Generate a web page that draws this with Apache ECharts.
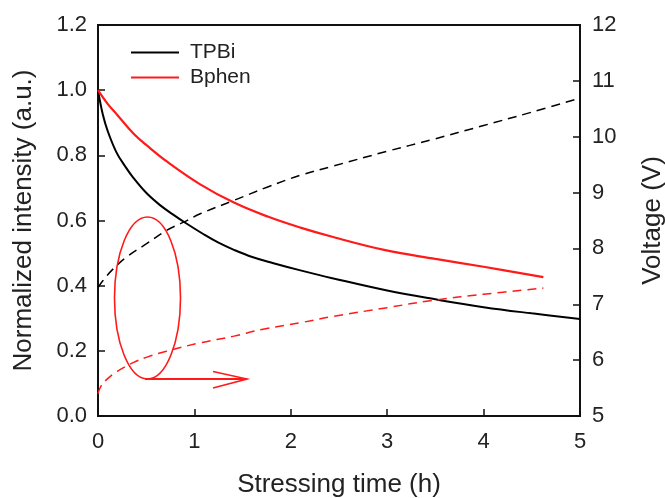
<!DOCTYPE html>
<html>
<head>
<meta charset="utf-8">
<script src="https://cdn.jsdelivr.net/npm/echarts@6/dist/echarts.min.js"></script>
<style>
html,body{margin:0;padding:0;background:#fff;}
#chart{width:665px;height:498px;}
</style>
</head>
<body>
<div id="chart"></div>
<script>
// Intensity (left axis)
var tpbiTime = [0, 0.05, 0.1, 0.19, 0.28, 0.367, 0.5, 0.64, 0.78, 0.905, 1.1, 1.25, 1.41, 1.6, 1.82, 2.1, 2.43, 3.0, 3.5, 4.0, 4.5, 5.0];
var tpbiIntensity = [1.0, 0.925, 0.875, 0.81, 0.767, 0.731, 0.685, 0.648, 0.618, 0.593, 0.557, 0.532, 0.51, 0.488, 0.469, 0.447, 0.423, 0.385, 0.358, 0.334, 0.315, 0.298];
var bphenTime = [0, 0.1, 0.2, 0.37, 0.5, 0.71, 1.06, 1.41, 1.76, 2.1, 2.43, 2.98, 3.5, 4.0, 4.62];
var bphenIntensity = [1.0, 0.958, 0.924, 0.866, 0.832, 0.782, 0.711, 0.655, 0.612, 0.578, 0.55, 0.509, 0.482, 0.458, 0.426];
// Voltage (right axis)
var tpbiVTime = [0, 0.05, 0.15, 0.3, 0.5, 0.71, 0.9, 1.06, 1.41, 1.76, 2.1, 2.43, 3.0, 3.47, 4.0, 4.5, 5.0];
var tpbiVoltage = [7.30, 7.42, 7.62, 7.85, 8.08, 8.32, 8.48, 8.62, 8.86, 9.10, 9.31, 9.47, 9.74, 9.95, 10.2, 10.44, 10.69];
var bphenVTime = [0, 0.03, 0.1, 0.2, 0.37, 0.5, 0.71, 1.06, 1.41, 1.7, 2.1, 2.43, 3.0, 3.47, 4.0, 4.62];
var bphenVoltage = [5.40, 5.53, 5.67, 5.80, 5.96, 6.05, 6.16, 6.31, 6.43, 6.55, 6.67, 6.78, 6.94, 7.07, 7.18, 7.29];

var xTicks = [0, 1, 2, 3, 4, 5];
var leftTicks = [0.0, 0.2, 0.4, 0.6, 0.8, 1.0, 1.2];
var rightTicks = [5, 6, 7, 8, 9, 10, 11, 12];

function zip(a, b) { return a.map(function (v, i) { return [v, b[i]]; }); }

var FONT = 'Arial, "Liberation Sans", sans-serif';
var RED = '#ff1a1a';
var chart = echarts.init(document.getElementById('chart'));
chart.setOption({
  animation: false,
  backgroundColor: '#ffffff',
  grid: { left: 98, right: 85, top: 25, bottom: 82, containLabel: false, outerBoundsMode: 'none',
          show: true, borderColor: '#111', borderWidth: 2, backgroundColor: 'transparent' },
  legend: {
    data: [{ name: 'TPBi', icon: 'rect' }, { name: 'Bphen', icon: 'rect' }],
    orient: 'vertical', left: 131, top: 42, padding: 0,
    itemWidth: 48, itemHeight: 2, itemGap: 4,
    textStyle: { fontSize: 21, color: '#222', fontFamily: FONT, padding: [0, 0, 0, 6] }
  },
  xAxis: {
    type: 'value', min: xTicks[0], max: xTicks[xTicks.length - 1], interval: 1,
    name: 'Stressing time (h)', nameLocation: 'middle', nameGap: 56,
    nameTextStyle: { fontSize: 26, color: '#222', fontFamily: FONT },
    axisLine: { lineStyle: { color: '#111', width: 2 } },
    axisTick: { inside: true, length: 7, lineStyle: { color: '#111', width: 1.5 } },
    axisLabel: { fontSize: 22, color: '#222', fontFamily: FONT, margin: 15 },
    splitLine: { show: false }
  },
  yAxis: [{
    type: 'value', min: leftTicks[0], max: leftTicks[leftTicks.length - 1], interval: 0.2,
    name: 'Normalized intensity (a.u.)', nameLocation: 'middle', nameGap: 61, nameRotate: 90,
    nameTextStyle: { fontSize: 26, color: '#222', fontFamily: FONT },
    axisLine: { show: true, lineStyle: { color: '#111', width: 2 } },
    axisTick: { show: true, inside: true, length: 7, lineStyle: { color: '#111', width: 1.5 } },
    axisLabel: { fontSize: 22, color: '#222', fontFamily: FONT, margin: 11, formatter: function (v) { return v.toFixed(1); } },
    splitLine: { show: false }
  }, {
    type: 'value', position: 'right', min: rightTicks[0], max: rightTicks[rightTicks.length - 1], interval: 1,
    name: 'Voltage (V)', nameLocation: 'middle', nameGap: 60, nameRotate: 90,
    nameTextStyle: { fontSize: 26, color: '#222', fontFamily: FONT },
    axisLine: { show: true, lineStyle: { color: '#111', width: 2 } },
    axisTick: { show: true, inside: true, length: 7, lineStyle: { color: '#111', width: 1.5 } },
    axisLabel: { fontSize: 22, color: '#222', fontFamily: FONT, margin: 12 },
    splitLine: { show: false }
  }],
  series: [
    { name: 'TPBi', type: 'line', data: zip(tpbiTime, tpbiIntensity), showSymbol: false, symbol: 'none', smooth: 0.4,
      lineStyle: { color: '#000', width: 2 }, itemStyle: { color: '#000' } },
    { name: 'Bphen', type: 'line', data: zip(bphenTime, bphenIntensity), showSymbol: false, symbol: 'none', smooth: 0.4,
      lineStyle: { color: RED, width: 2.2 }, itemStyle: { color: RED } },
    { name: 'TPBi voltage', type: 'line', yAxisIndex: 1, data: zip(tpbiVTime, tpbiVoltage), showSymbol: false, symbol: 'none', smooth: 0.4,
      lineStyle: { color: '#000', width: 1.5, type: [9, 6] }, itemStyle: { color: '#000' } },
    { name: 'Bphen voltage', type: 'line', yAxisIndex: 1, data: zip(bphenVTime, bphenVoltage), showSymbol: false, symbol: 'none', smooth: 0.4,
      lineStyle: { color: RED, width: 1.5, type: [9, 6] }, itemStyle: { color: RED } }
  ],
  graphic: [
    { type: 'ellipse', shape: { cx: 147.5, cy: 298, rx: 33, ry: 81 }, style: { fill: 'none', stroke: RED, lineWidth: 1.6 }, z: 10 },
    { type: 'line', shape: { x1: 145, y1: 379, x2: 247, y2: 379 }, style: { stroke: RED, lineWidth: 1.8 }, z: 10 },
    { type: 'polyline', shape: { points: [[213, 371.5], [247, 379], [213, 388]] }, style: { fill: 'none', stroke: RED, lineWidth: 1.6 }, z: 10 }
  ]
});
</script>
</body>
</html>
